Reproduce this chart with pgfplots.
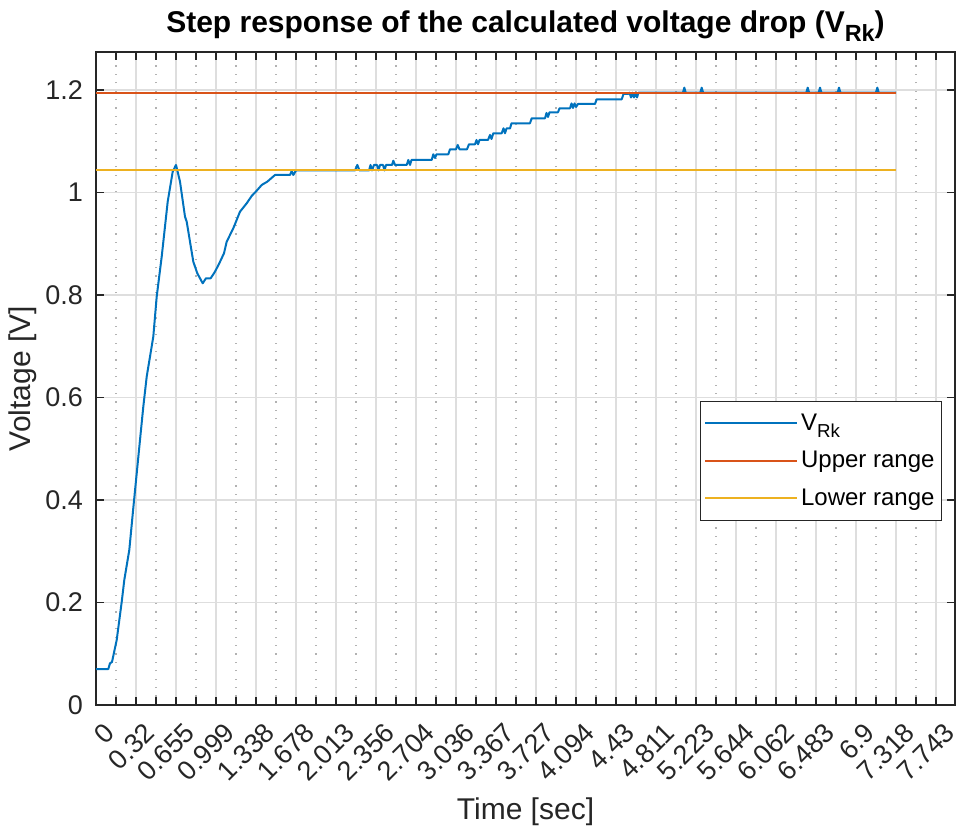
\documentclass[border=0pt]{standalone}
\usepackage{fontspec}
\setmainfont{Liberation Sans}
\usepackage{pgfplots}
\pgfplotsset{compat=1.18}
\definecolor{mblue}{rgb}{0,0.447,0.741}
\definecolor{mred}{rgb}{0.85,0.325,0.098}
\definecolor{myellow}{rgb}{0.929,0.694,0.125}
\definecolor{axcol}{rgb}{0.15,0.15,0.15}
\definecolor{gridcol}{rgb}{0.87,0.87,0.87}
\newcommand{\msub}[1]{\raisebox{-0.55ex}{\scalebox{0.78}{#1}}}
\begin{document}
\begin{tikzpicture}
\begin{axis}[
  scale only axis, width=429.5pt, height=326.35pt,
  xmin=0, xmax=21.475, ymin=0, ymax=1.2735,
  axis line style={axcol, line width=0.8pt},
  tick align=inside,
  major tick length=4pt, minor tick length=4pt,
  every tick/.style={axcol, line width=0.8pt},
  xtick={0,...,21},
  xticklabels={0,0.32,0.655,0.999,1.338,1.678,2.013,2.356,2.704,3.036,3.367,3.727,4.094,4.43,4.811,5.223,5.644,6.062,6.483,6.9,7.318,7.743},
  minor x tick num=1,
  ytick={0,0.2,0.4,0.6,0.8,1,1.2},
  yticklabels={0,0.2,0.4,0.6,0.8,1,1.2},
  xmajorgrids, xminorgrids, ymajorgrids,
  major grid style={gridcol, line width=0.6pt},
  minor grid style={black!30, line width=0.6pt, dash pattern=on 0.6pt off 3.6pt},
  ticklabel style={font=\fontsize{13.5}{16}\selectfont, text=axcol},
  xticklabel style={xshift=9.5pt, yshift=-9pt, rotate=45, anchor=east},
  yticklabel style={xshift=-3pt},
  xlabel={Time [sec]},
  ylabel={Voltage [V]},
  label style={font=\fontsize{15}{18}\selectfont, text=axcol},
  xlabel style={at={(rel axis cs:0.5,-0.1747)}, anchor=base},
  ylabel style={at={(rel axis cs:-0.0757,0.5)}, anchor=base, rotate=0},
  every axis title shift=0pt,
  title={Step response of the calculated voltage drop (V\msub{Rk})},
  title style={at={(rel axis cs:0.5,1.0306)}, anchor=base, font=\fontsize{15}{18}\selectfont\bfseries},
  legend style={at={(rel axis cs:0.985,0.4658)}, anchor=north east, font=\fontsize{12}{14}\selectfont, draw=axcol, line width=0.6pt, row sep=5pt, inner xsep=2pt, inner ysep=4pt, nodes={inner xsep=1.5pt}},
  legend cell align=left,
  legend image code/.code={\path (0pt,0pt) -- (46pt,0pt); \draw[#1, line width=0.6pt] (4.5pt,0pt) -- (44.5pt,0pt);},
]
\coordinate (SW) at (rel axis cs:0,0);
\coordinate (NE) at (rel axis cs:1,1);
\addplot[mblue, line width=1pt, line join=round] coordinates {
(0,0.0702)(0.3075,0.0702)(0.35,0.0814)(0.4,0.0839)(0.5175,0.1268)(0.6425,0.2010)(0.7075,0.2439)(0.8325,0.3024)(0.9325,0.3844)(1.1,0.5171)(1.1825,0.5820)(1.2675,0.6406)(1.4325,0.7186)(1.5175,0.7967)(1.6425,0.8747)(1.7925,0.9820)(1.9175,1.0406)(2.0,1.0537)(2.1,1.0211)(2.225,0.9528)(2.2675,0.9430)(2.4325,0.8650)(2.5325,0.8423)(2.6675,0.8228)(2.75,0.8326)(2.8675,0.8326)(2.975,0.8455)(3.0825,0.8618)(3.2,0.8814)(3.2675,0.9040)(3.4325,0.9301)(3.6,0.9625)(3.7675,0.9789)(3.8925,0.9932)(4.0175,1.0035)(4.1425,1.0146)(4.2825,1.0211)(4.475,1.0341)(4.85,1.0341)(4.8925,1.0420)(4.9325,1.0341)(5.0,1.0429)(6.475,1.0429)(6.5325,1.0537)(6.5875,1.0429)(6.825,1.0429)(6.8625,1.0537)(6.9,1.0429)(6.95,1.0537)(7.025,1.0537)(7.0625,1.0429)(7.1,1.0537)(7.175,1.0537)(7.2125,1.0429)(7.25,1.0537)(7.4,1.0537)(7.4325,1.0620)(7.475,1.0537)(7.7675,1.0537)(7.8075,1.0634)(7.85,1.0537)(7.8875,1.0634)(8.3925,1.0634)(8.4325,1.0745)(8.475,1.0673)(8.5125,1.0745)(8.8075,1.0745)(8.85,1.0843)(9.0,1.0843)(9.0425,1.0927)(9.0875,1.0843)(9.275,1.0843)(9.325,1.0940)(9.475,1.0940)(9.5125,1.1024)(9.55,1.0940)(9.5875,1.1024)(9.8,1.1024)(9.85,1.1122)(9.8875,1.1044)(9.9325,1.1155)(10.1425,1.1155)(10.1875,1.1252)(10.225,1.1155)(10.2625,1.1249)(10.35,1.1249)(10.3875,1.1350)(10.85,1.1350)(10.8925,1.1448)(11.225,1.1448)(11.2625,1.1551)(11.3,1.1473)(11.3375,1.1565)(11.55,1.1565)(11.5875,1.1643)(11.85,1.1643)(11.8875,1.1737)(11.925,1.1649)(11.9625,1.1737)(12.0,1.1668)(12.05,1.1727)(12.475,1.1727)(12.5175,1.1818)(13.1425,1.1818)(13.1875,1.1922)(13.3,1.1922)(13.3375,1.1947)(13.375,1.1854)(13.4125,1.1947)(13.45,1.1854)(13.4875,1.1947)(13.525,1.1854)(13.5625,1.1947)(14.6725,1.1947)(14.7075,1.2045)(14.7425,1.1947)(15.1075,1.1947)(15.1425,1.2045)(15.1775,1.1947)(17.7575,1.1947)(17.7925,1.2045)(17.8275,1.1947)(18.065,1.1947)(18.1,1.2045)(18.135,1.1947)(18.54,1.1947)(18.575,1.2045)(18.61,1.1947)(19.4975,1.1947)(19.5325,1.2045)(19.5675,1.1947)(20,1.1947)
};
\addlegendentry{V\msub{Rk}}
\addplot[mred, line width=1pt] coordinates {(0,1.1947)(20,1.1947)};
\addlegendentry{Upper range}
\addplot[myellow, line width=1pt] coordinates {(0,1.043)(20,1.043)};
\addlegendentry{Lower range}
\end{axis}
\pgfresetboundingbox
\path[use as bounding box] ([shift={(-48pt,-64pt)}]SW) rectangle ([shift={(2.5pt,26.15pt)}]NE);
\end{tikzpicture}
\end{document}
